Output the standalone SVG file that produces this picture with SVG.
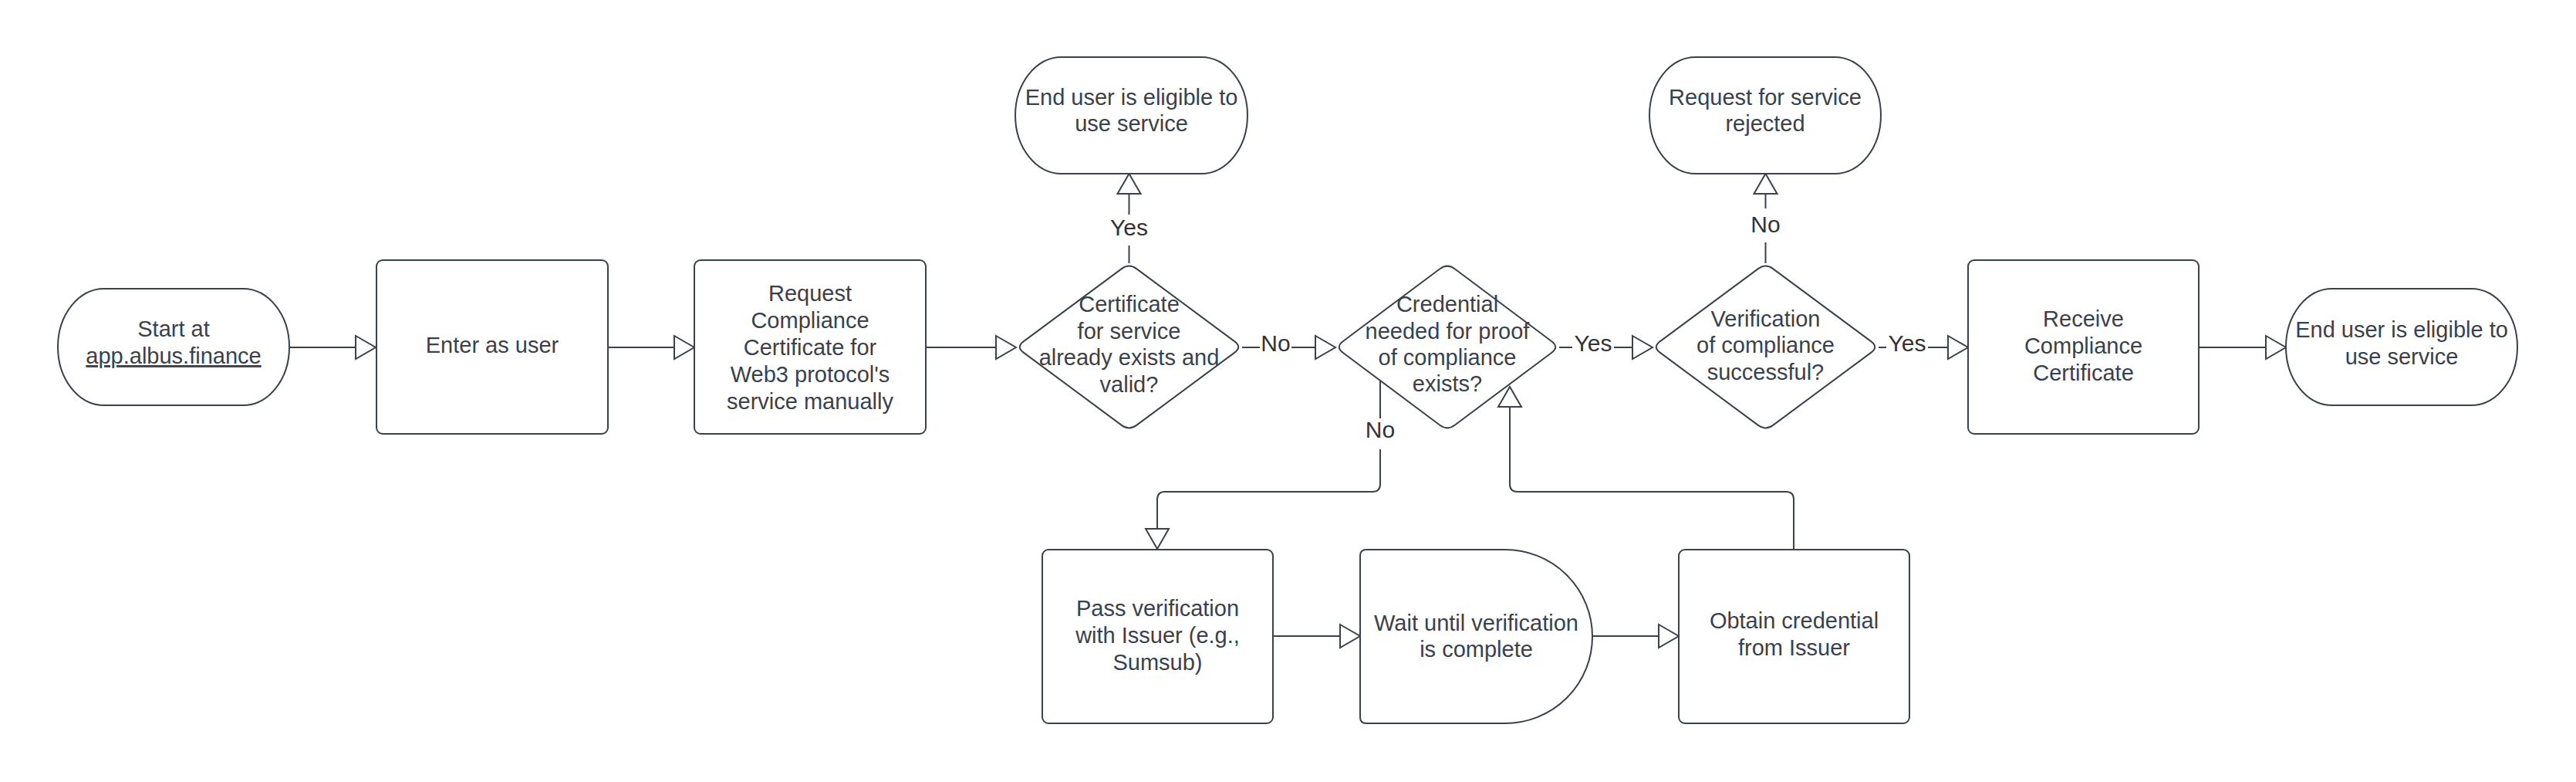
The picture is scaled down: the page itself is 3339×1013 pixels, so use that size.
<svg xmlns="http://www.w3.org/2000/svg" width="3339" height="1013" viewBox="0 0 3339 1013">
<style>
.shape{fill:#ffffff;stroke:#3a414a;stroke-width:2;stroke-linejoin:round}
.t{font-family:"Liberation Sans",Arial,sans-serif;font-size:29px;fill:#3a414a;text-anchor:middle}
.conn{fill:none;stroke:#3a414a;stroke-width:2}
.lbl{font-family:"Liberation Sans",Arial,sans-serif;font-size:30px;fill:#333333;text-anchor:middle}
.bg{fill:#ffffff;stroke:none}
</style>
<defs>
<marker id="arr" markerUnits="userSpaceOnUse" markerWidth="30" markerHeight="34" viewBox="-2 -2 30 34" refX="26" refY="15" orient="auto">
<path d="M0,0 L26,15 L0,30 Z" fill="#ffffff" stroke="#3a414a" stroke-width="2" stroke-linejoin="miter"/>
</marker>
</defs>
<rect width="3339" height="1013" fill="#ffffff"/>

<g id="connectors">
<path class="conn" d="M375,450 H487" marker-end="url(#arr)"/>
<path class="conn" d="M788,450 H900" marker-end="url(#arr)"/>
<path class="conn" d="M1200,450 H1317" marker-end="url(#arr)"/>
<path class="conn" d="M1610,450 H1731" marker-end="url(#arr)"/>
<path class="conn" d="M1463.5,341 V225" marker-end="url(#arr)"/>
<path class="conn" d="M2021,450 H2142" marker-end="url(#arr)"/>
<path class="conn" d="M2288.5,341 V225" marker-end="url(#arr)"/>
<path class="conn" d="M2435,450 H2551" marker-end="url(#arr)"/>
<path class="conn" d="M2850,450 H2963" marker-end="url(#arr)"/>
<path class="conn" d="M1789,494 V627 Q1789,637 1779,637 H1510 Q1500,637 1500,647 V711" marker-end="url(#arr)"/>
<path class="conn" d="M1650,824 H1763" marker-end="url(#arr)"/>
<path class="conn" d="M2064,824 H2176" marker-end="url(#arr)"/>
<path class="conn" d="M2325,712 V647 Q2325,637 2315,637 H1967 Q1957,637 1957,627 V501" marker-end="url(#arr)"/>
<rect class="bg" x="1438" y="278" width="52" height="40"/>
<text class="lbl" x="1463.5" y="305">Yes</text>
<rect class="bg" x="1633" y="430" width="41" height="40"/>
<text class="lbl" x="1653.5" y="455">No</text>
<rect class="bg" x="2038" y="430" width="54" height="40"/>
<text class="lbl" x="2065" y="455">Yes</text>
<rect class="bg" x="2268" y="270" width="41" height="44"/>
<text class="lbl" x="2288.5" y="301">No</text>
<rect class="bg" x="2445" y="430" width="54" height="40"/>
<text class="lbl" x="2472" y="455">Yes</text>
<rect class="bg" x="1768" y="542" width="42" height="40"/>
<text class="lbl" x="1789" y="567">No</text>
</g>

<g id="start">
<path class="shape" d="M135,374 H315 A60,75.5 0 0 1 315,525 H135 A60,75.5 0 0 1 135,374 Z"/>
<text class="t" x="225" y="436">Start at</text>
<text class="t" x="225" y="471" text-decoration="underline">app.albus.finance</text>
</g>

<g id="enter">
<rect class="shape" x="488" y="337" width="300" height="225" rx="8"/>
<text class="t" x="638" y="457">Enter as user</text>
</g>

<g id="request">
<rect class="shape" x="900" y="337" width="300" height="225" rx="8"/>
<text class="t" x="1050" y="389.5">Request</text>
<text class="t" x="1050" y="424.5">Compliance</text>
<text class="t" x="1050" y="459.5">Certificate for</text>
<text class="t" x="1050" y="494.5">Web3 protocol's</text>
<text class="t" x="1050" y="529.5">service manually</text>
</g>

<g id="decision-certificate">
<path class="shape" d="M1473.1,348.1 L1600.4,442.4 Q1610,449.5 1600.4,456.6 L1473.1,550.9 Q1463.5,558 1453.9,550.9 L1326.6,456.6 Q1317,449.5 1326.6,442.4 L1453.9,348.1 Q1463.5,341 1473.1,348.1 Z"/>
<text class="t" x="1463.5" y="403.5">Certificate</text>
<text class="t" x="1463.5" y="438.5">for service</text>
<text class="t" x="1463.5" y="472.5">already exists and</text>
<text class="t" x="1463.5" y="507.5">valid?</text>
</g>

<g id="end-eligible-top">
<path class="shape" d="M1376,74 H1557 A60,75.5 0 0 1 1557,225 H1376 A60,75.5 0 0 1 1376,74 Z"/>
<text class="t" x="1466.5" y="136">End user is eligible to</text>
<text class="t" x="1466.5" y="170">use service</text>
</g>

<g id="decision-credential">
<path class="shape" d="M1885.6,348.2 L2011.4,442.3 Q2021,449.5 2011.4,456.7 L1885.6,550.8 Q1876,558 1866.4,550.8 L1740.6,456.7 Q1731,449.5 1740.6,442.3 L1866.4,348.2 Q1876,341 1885.6,348.2 Z"/>
<text class="t" x="1876" y="403.5">Credential</text>
<text class="t" x="1876" y="438.5">needed for proof</text>
<text class="t" x="1876" y="472.5">of compliance</text>
<text class="t" x="1876" y="507">exists?</text>
</g>

<g id="decision-verification">
<path class="shape" d="M2298.1,348.1 L2425.4,442.4 Q2435,449.5 2425.4,456.6 L2298.1,550.9 Q2288.5,558 2278.9,550.9 L2151.6,456.6 Q2142,449.5 2151.6,442.4 L2278.9,348.1 Q2288.5,341 2298.1,348.1 Z"/>
<text class="t" x="2288.5" y="422.5">Verification</text>
<text class="t" x="2288.5" y="456.5">of compliance</text>
<text class="t" x="2288.5" y="491.5">successful?</text>
</g>

<g id="rejected">
<path class="shape" d="M2198,74 H2378 A60,75.5 0 0 1 2378,225 H2198 A60,75.5 0 0 1 2198,74 Z"/>
<text class="t" x="2288" y="136">Request for service</text>
<text class="t" x="2288" y="170">rejected</text>
</g>

<g id="receive">
<rect class="shape" x="2551" y="337" width="299" height="225" rx="8"/>
<text class="t" x="2700.5" y="422.5">Receive</text>
<text class="t" x="2700.5" y="457.5">Compliance</text>
<text class="t" x="2700.5" y="492.5">Certificate</text>
</g>

<g id="end-eligible">
<path class="shape" d="M3023,374 H3203 A60,75.5 0 0 1 3203,525 H3023 A60,75.5 0 0 1 3023,374 Z"/>
<text class="t" x="3113" y="436.5">End user is eligible to</text>
<text class="t" x="3113" y="471.5">use service</text>
</g>

<g id="pass-verification">
<rect class="shape" x="1351" y="712" width="299" height="225" rx="8"/>
<text class="t" x="1500.5" y="797.5">Pass verification</text>
<text class="t" x="1500.5" y="832.5">with Issuer (e.g.,</text>
<text class="t" x="1500.5" y="867.5">Sumsub)</text>
</g>

<g id="wait">
<path class="shape" d="M1771,712 H1951 A113,112.5 0 0 1 1951,937 H1771 Q1763,937 1763,929 V720 Q1763,712 1771,712 Z"/>
<text class="t" x="1913.5" y="816.5">Wait until verification</text>
<text class="t" x="1913.5" y="850.5">is complete</text>
</g>

<g id="obtain">
<rect class="shape" x="2176" y="712" width="299" height="225" rx="8"/>
<text class="t" x="2325.5" y="813.5">Obtain credential</text>
<text class="t" x="2325.5" y="848.5">from Issuer</text>
</g>
</svg>
